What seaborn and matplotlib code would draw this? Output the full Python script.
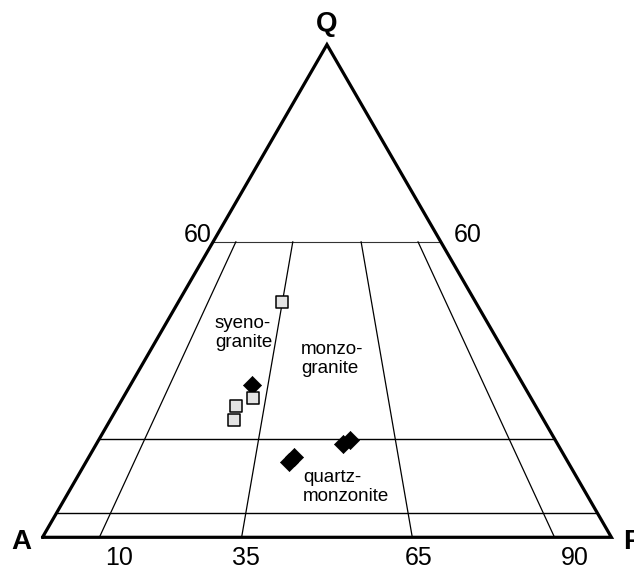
import numpy as np
import pandas as pd
import matplotlib
matplotlib.use("Agg")
import matplotlib.pyplot as plt
import seaborn as sns

# --------- dados (Q, A, P em %)
square_Q = [47.7, 28.3, 26.6, 23.8]
square_A = [34.0, 48.8, 52.6, 54.4]
square_P = [18.3, 22.9, 20.8, 21.8]

diamond_Q = [31.0, 19.0, 19.8, 15.2, 16.3]
diamond_A = [47.7, 37.7, 36.0, 49.0, 47.6]
diamond_P = [21.3, 43.3, 44.2, 35.8, 36.1]

q_levels = [60, 20, 5]            # linhas horizontais (Q constante)
ap_ratios = [10, 35, 65, 90]      # 100*P/(A+P), linhas radiais
tick_labels = ["10", "35", "65", "90"]

field_names = ["syeno-\ngranite", "monzo-\ngranite", "quartz-\nmonzonite"]


def tern(q, a, p):
    q, a, p = np.asarray(q, float), np.asarray(a, float), np.asarray(p, float)
    s = q + a + p
    q, p = q / s, p / s
    return p + q / 2, q * np.sqrt(3) / 2


sns.set_style("white")
plt.rcParams["font.family"] = ["Liberation Sans", "DejaVu Sans"]
plt.rcParams["text.color"] = "black"

fig = plt.figure(figsize=(6.34, 5.68), dpi=100)
ax = fig.add_axes([0, 0, 1, 1])
W = 568.9
ax.set_xlim(-42.5 / W, (634 - 42.5) / W)
ax.set_ylim(-(568 - 537.3) / W, 537.3 / W)
ax.axis("off")

# --------- contorno do triângulo
tx, ty = tern([0, 0, 100, 0], [100, 0, 0, 100], [0, 100, 0, 0])
ax.plot(tx, ty, color="black", lw=2.3, solid_joinstyle="miter", zorder=3)

# --------- linhas de Q constante
for q in q_levels:
    lx, ly = tern([q, q], [100 - q, 0], [0, 100 - q])
    ax.plot(lx, ly, color="#333333" if q == 60 else "black",
            lw=0.8 if q == 60 else 1.0, zorder=2)

# --------- linhas radiais (P/(A+P))
for r in ap_ratios:
    qs = np.array([0, 60])
    lx, ly = tern(qs, (100 - qs) * (100 - r) / 100, (100 - qs) * r / 100)
    ax.plot(lx, ly, color="black", lw=0.9, zorder=2)

# --------- amostras
df = pd.DataFrame({
    "Q": square_Q + diamond_Q,
    "A": square_A + diamond_A,
    "P": square_P + diamond_P,
    "grupo": ["sq"] * len(square_Q) + ["di"] * len(diamond_Q),
})
df["x"], df["y"] = tern(df["Q"], df["A"], df["P"])

sns.scatterplot(data=df[df.grupo == "di"], x="x", y="y", marker="D", s=85,
                color="black", edgecolor="black", linewidth=0.5, ax=ax,
                legend=False, zorder=4)
sns.scatterplot(data=df[df.grupo == "sq"], x="x", y="y", marker="s", s=72,
                color="#e3e3e3", edgecolor="black", linewidth=1.1, ax=ax,
                legend=False, zorder=5)

# --------- rótulos
vfont = dict(fontsize=20, fontweight="bold", color="black")
qx, qy = tern(100, 0, 0)
ax.text(qx, qy + 21 / W, "Q", ha="center", va="center", **vfont)
ax.text(-21.5 / W, -4.5 / W, "A", ha="center", va="center", **vfont)
ax.text(1 + 11.5 / W, -4.5 / W, "P", ha="left", va="center", **vfont)

lx, ly = tern([60, 60], [40, 0], [0, 40])
ax.text(lx[0] - 1.5 / W, ly[0] + 7 / W, "60", ha="right", va="center",
        fontsize=18, color="black")
ax.text(lx[1] + 13 / W, ly[1] + 7 / W, "60", ha="left", va="center",
        fontsize=18, color="black")

tick_dx = [20, 4, 6, 20]
for r, lab, dx in zip(ap_ratios, tick_labels, tick_dx):
    ax.text(r / 100 + dx / W, -21 / W, lab, ha="center", va="center",
            fontsize=18, color="black")

# posições dos nomes dos campos (pixels da figura original)
field_px = [(215, 333), (301, 359), (303, 487)]
for name, (px, py) in zip(field_names, field_px):
    ax.text((px - 42.5) / W, (537.3 - py) / W, name, ha="left", va="center",
            fontsize=13.5, linespacing=1.15, color="black")

fig.savefig("out.png", dpi=100)
